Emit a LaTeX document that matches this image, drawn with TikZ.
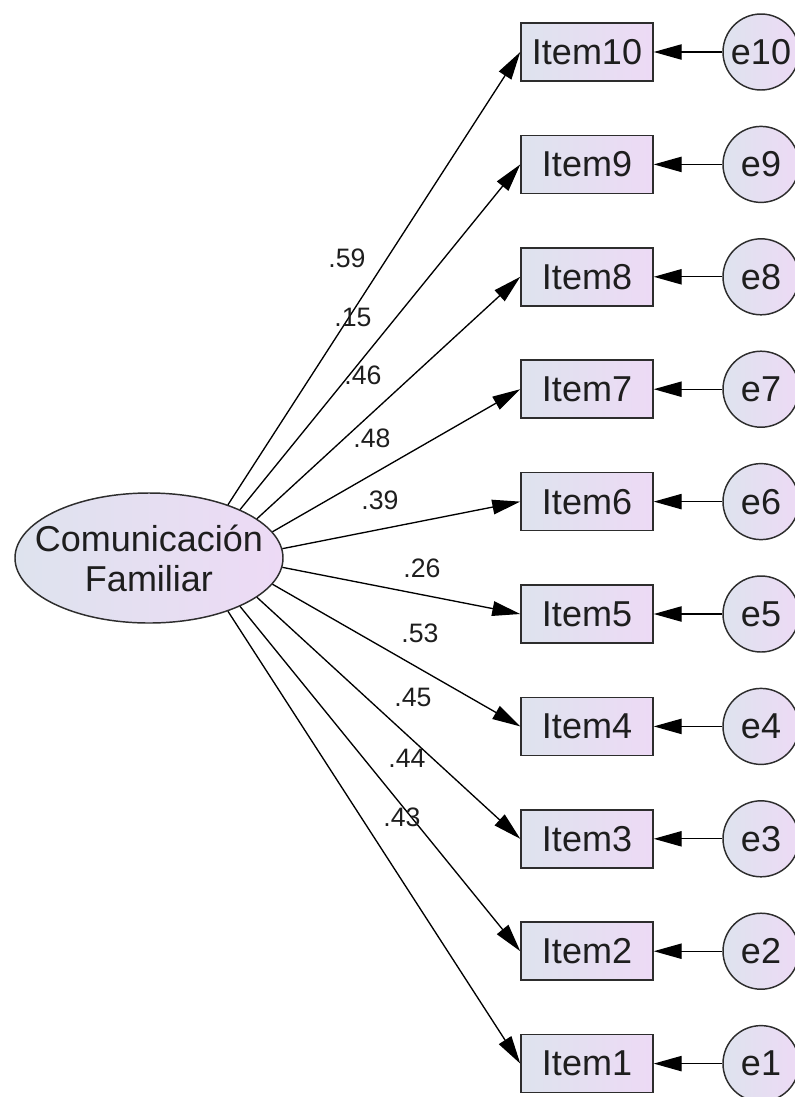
\documentclass[tikz,border=0pt]{standalone}
\usepackage{fontspec}
\setmainfont{Liberation Sans}
\usetikzlibrary{shapes.geometric,arrows.meta}
\definecolor{fillL}{RGB}{222,227,238}
\definecolor{fillR}{RGB}{237,218,245}
\definecolor{edgec}{RGB}{45,45,45}
\definecolor{txt}{RGB}{30,30,30}
\begin{document}
\begin{tikzpicture}[x=0.75pt,y=-0.75pt,
  obs/.style={draw=edgec,line width=1.1pt,rectangle,minimum width=99pt,minimum height=43.5pt,inner sep=0pt,left color=fillL,right color=fillR,text=txt,font=\fontsize{27}{30}\selectfont},
  err/.style={draw=edgec,line width=1.1pt,circle,minimum size=57pt,inner sep=0pt,left color=fillL,right color=fillR,text=txt,font=\fontsize{27}{30}\selectfont},
  lat/.style={draw=edgec,line width=1.1pt,ellipse,minimum width=201pt,minimum height=97.5pt,inner sep=0pt,left color=fillL,right color=fillR},
  lattxt/.style={text=txt,align=center,inner sep=0pt,font=\fontsize{27}{30}\selectfont},
  load/.style={line width=1pt,draw=black,-{Triangle[length=21pt,width=11pt]}},
  erra/.style={line width=1pt,draw=black,-{Triangle[length=21pt,width=11.5pt]}},
  lbl/.style={font=\fontsize{20}{22}\selectfont,text=txt,inner sep=0pt}]
\path[use as bounding box] (0,0) rectangle (794,1097);
\node[lat] (F) at (149,558) {};
\node[lattxt] (Ft) at (F.center) {Comunicación\\Familiar};
\foreach \i/\ang in {10/34,9/28,8/20.5,7/12.8,6/4.6,5/-4.6,4/-12.8,3/-20.5,2/-28,1/-34}{
  \pgfmathsetmacro{\yy}{52+112.4*(10-\i)}
  \node[obs] (item\i) at (587,\yy) {Item\i};
  \node[err] (e\i) at (761,\yy) {e\i};
  \draw[erra] (e\i) -- (item\i);
  \draw[load] (F.\ang) -- (item\i.west);
}
\node[lbl] (l10) at (347,258) {.59};
\node[lbl] (l9) at (353,317) {.15};
\node[lbl] (l8) at (363,375) {.46};
\node[lbl] (l7) at (372,438) {.48};
\node[lbl] (l6) at (380,500) {.39};
\node[lbl] (l5) at (422,568) {.26};
\node[lbl] (l4) at (420,633) {.53};
\node[lbl] (l3) at (413,697) {.45};
\node[lbl] (l2) at (407,758) {.44};
\node[lbl] (l1) at (402,817) {.43};
\end{tikzpicture}
\end{document}
